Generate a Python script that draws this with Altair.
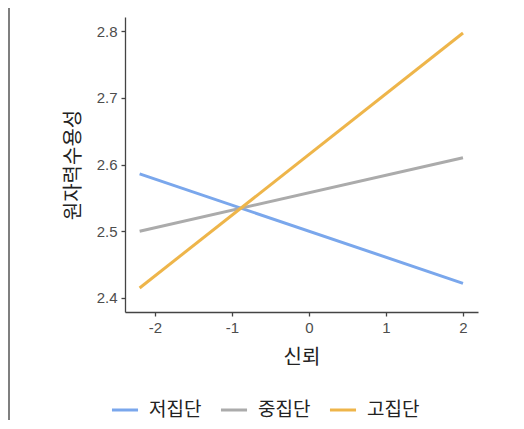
import altair as alt
import pandas as pd

groups = ["저집단", "중집단", "고집단"]
x_vals = [-2.2, 2.0]
y_low = [2.586, 2.422]
y_mid = [2.500, 2.610]
y_high = [2.415, 2.797]
colors = ["#7AA7EC", "#ABABAB", "#EEB54A"]

rows = []
for g, ys in zip(groups, [y_low, y_mid, y_high]):
    for xv, yv in zip(x_vals, ys):
        rows.append({"신뢰": xv, "원자력수용성": yv, "집단": g})
df = pd.DataFrame(rows)

FONT = "Liberation Sans, Noto Sans CJK KR, sans-serif"

lines = alt.Chart(df).mark_line(strokeWidth=3).encode(
    x=alt.X("신뢰:Q", scale=alt.Scale(domain=[-2.39, 2.195], nice=False, zero=False),
            axis=alt.Axis(values=[-2, -1, 0, 1, 2], title="신뢰",
                          labelExpr="replace(format(datum.value, 'd'), '−', '-')")),
    y=alt.Y("원자력수용성:Q", scale=alt.Scale(domain=[2.379, 2.821], nice=False, zero=False),
            axis=alt.Axis(values=[2.4, 2.5, 2.6, 2.7, 2.8], title="원자력수용성", format=".1f")),
    color=alt.Color("집단:N", scale=alt.Scale(domain=groups, range=colors),
                    sort=groups,
                    legend=alt.Legend(title=None, orient="none", direction="horizontal",
                                      legendX=-15, legendY=378, symbolType="stroke",
                                      symbolSize=680, symbolStrokeWidth=3,
                                      labelFontSize=19, labelFont=FONT, labelColor="#222222",
                                      labelOffset=9, columnPadding=12, columns=3)),
    detail="집단:N",
)

frame = alt.Chart(pd.DataFrame({"a": [0]})).mark_rule(color="#555555", strokeWidth=1.5).encode(
    x=alt.value(-116), y=alt.value(-9), y2=alt.value(404)
)

chart = alt.layer(lines, frame).properties(
    width=353, height=295,
    autosize=alt.AutoSizeParams(type="none"),
    padding={"left": 117, "top": 9, "right": 38, "bottom": 108},
).configure_view(stroke=None).configure_axis(
    grid=False, domainColor="#444444", domainWidth=1.3, tickColor="#444444", tickWidth=1.3,
    tickSize=4, labelFontSize=15, labelColor="#4D4D4D", labelFont=FONT, labelPadding=4,
    titleFontSize=20, titleFont=FONT, titleFontWeight="normal", titleColor="#222222",
).configure_axisY(titlePadding=13).configure_axisX(titlePadding=12)

chart.save("out.html", embed_options={"renderer": "svg", "actions": False})
